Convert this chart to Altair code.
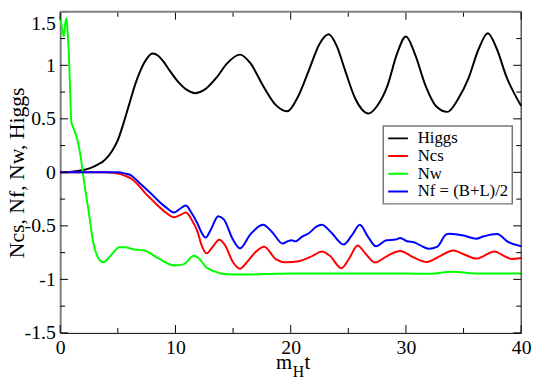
import altair as alt
import pandas as pd

# ---------------- data ----------------
series_names = ["Higgs", "Ncs", "Nw", "Nf = (B+L)/2"]
series_colors = ["#000000", "#ff0000", "#00ff00", "#0000ff"]

x_major = [0, 10, 20, 30, 40]
x_minor = [5, 15, 25, 35]
y_major = [-1.5, -1.0, -0.5, 0.0, 0.5, 1.0, 1.5]
y_minor = [-1.25, -0.75, -0.25, 0.25, 0.75, 1.25]

y_title = "Ncs, Nf, Nw, Higgs"
x_title_parts = ["m", "H", "t"]

higgs_t = [0, 1, 2, 2.6, 3.3, 3.7, 4.0, 4.5, 5.0, 5.5, 6.0, 6.5, 7.0, 7.5, 8.0, 8.5, 9.0,
           9.5, 10.2, 11.0, 11.7, 12.5, 13.6, 14.5, 15.6, 16.5, 17.6, 18.7, 19.7,
           20.6, 21.6, 22.5, 23.3, 24.0, 24.7, 25.6, 26.75, 27.5, 28.4, 29.2, 30.0,
           30.8, 31.7, 32.6, 33.6, 34.5, 35.4, 36.3, 37.1, 37.9, 38.7, 40]
higgs_v = [0.0, 0.005, 0.022, 0.04, 0.075, 0.10, 0.13, 0.20, 0.30, 0.46, 0.64, 0.82, 0.96,
           1.06, 1.11, 1.09, 1.03, 0.95, 0.85, 0.77, 0.74, 0.77, 0.89, 1.02, 1.10,
           1.02, 0.81, 0.63, 0.57, 0.70, 0.96, 1.20, 1.29, 1.18, 0.96, 0.69, 0.55,
           0.62, 0.81, 1.10, 1.27, 1.10, 0.81, 0.62, 0.565, 0.68, 0.87, 1.15, 1.30,
           1.15, 0.90, 0.62]

ncs_t = [0, 2, 4, 4.6, 5.04, 5.6, 6.18, 6.7, 7.3, 7.9, 8.46, 9.1, 9.9, 10.4, 10.9,
         11.4, 11.9, 12.3, 12.7, 13.2, 13.8, 14.3, 15.0, 15.6, 16.2, 17.0, 17.7,
         18.7, 19.6, 20.7, 21.9, 22.7, 23.4, 24.4, 25.1, 25.8, 26.5, 27.3, 28.4,
         29.5, 30.7, 31.8, 33.0, 34.1, 35.1, 36.1, 37.7, 38.5, 39.2, 40]
ncs_v = [0.0, 0.0, 0.0, -0.005, -0.01, -0.03, -0.06, -0.11, -0.185, -0.25, -0.31,
         -0.37, -0.42, -0.40, -0.375, -0.44, -0.55, -0.69, -0.757, -0.70, -0.63,
         -0.68, -0.84, -0.90, -0.84, -0.74, -0.695, -0.81, -0.84, -0.83, -0.78,
         -0.74, -0.78, -0.895, -0.80, -0.683, -0.76, -0.842, -0.78, -0.735, -0.797,
         -0.837, -0.78, -0.73, -0.77, -0.806, -0.74, -0.78, -0.81, -0.80]

nw_t = [0, 0.15, 0.31, 0.45, 0.54, 0.65, 0.74, 0.85, 0.97, 1.2, 1.45, 1.74, 2.02,
        2.45, 2.88, 3.3, 3.73, 4.2, 4.6, 5.1, 5.6, 6.4, 7.3, 8.46, 9.9, 10.7, 11.6,
        12.0, 12.7, 13.5, 14.2, 16, 18, 20, 22, 24, 26, 28, 30, 32, 34.1, 36, 38, 40]
nw_v = [1.45, 1.35, 1.27, 1.40, 1.44, 1.30, 1.14, 0.80, 0.47, 0.40, 0.32, 0.17, -0.05,
        -0.35, -0.66, -0.80, -0.84, -0.80, -0.75, -0.70, -0.70, -0.72, -0.73, -0.80,
        -0.87, -0.86, -0.78, -0.80, -0.89, -0.93, -0.95, -0.955, -0.95, -0.945,
        -0.945, -0.945, -0.945, -0.945, -0.945, -0.948, -0.928, -0.945, -0.945, -0.945]

nf_t = [0, 4, 5.04, 5.6, 6.18, 6.7, 7.3, 7.9, 8.46, 9.1, 9.9, 10.4, 10.9, 11.4, 11.9,
        12.3, 12.6, 13.1, 13.7, 14.2, 15.0, 15.6, 16.5, 17.6, 18.4, 19.3, 19.8, 20.1,
        20.4, 21.0, 21.6, 22.2, 22.7, 23.5, 24.6, 25.3, 26.0, 26.7, 27.4, 28.3, 29.1,
        29.5, 30.1, 30.7, 31.5, 32.0, 32.7, 33.5, 33.8, 35.0, 36.1, 36.7, 37.9, 38.9, 40]
nf_v = [0.0, 0.0, 0.0, -0.01, -0.03, -0.08, -0.14, -0.20, -0.26, -0.32, -0.375, -0.34,
        -0.31, -0.38, -0.475, -0.57, -0.61, -0.53, -0.41, -0.44, -0.63, -0.71, -0.58,
        -0.49, -0.56, -0.665, -0.64, -0.635, -0.645, -0.60, -0.567, -0.51, -0.49,
        -0.56, -0.674, -0.59, -0.49, -0.60, -0.69, -0.635, -0.628, -0.613, -0.644,
        -0.653, -0.696, -0.714, -0.696, -0.58, -0.573, -0.59, -0.62, -0.60, -0.577,
        -0.653, -0.69]

rows = []
for name, ts, vs in zip(series_names, [higgs_t, ncs_t, nw_t, nf_t],
                        [higgs_v, ncs_v, nw_v, nf_v]):
    for t, v in zip(ts, vs):
        rows.append({"series": name, "t": t, "v": v})
df = pd.DataFrame(rows)

# ---------------- chart ----------------
W, H = 468, 326
FONT = "Liberation Serif, Times New Roman, Times, serif"
xscale = alt.Scale(domain=[0, 40], nice=False, zero=False)
yscale = alt.Scale(domain=[-1.5, 1.5], nice=False, zero=False)

X_AXIS = alt.Axis(
    orient="bottom", values=x_major, ticks=False, domain=True,
    domainColor="black", domainWidth=1, labelFont=FONT, labelFontSize=20,
    labelColor="black", labelPadding=5, labelFlush=False, grid=False,
    title=None)
Y_AXIS = alt.Axis(
    orient="left", values=y_major, ticks=False, domain=True,
    domainColor="#808080", domainWidth=2, labelFont=FONT, labelFontSize=20,
    labelColor="black", labelPadding=5, labelFlush=False, grid=False,
    labelExpr="'' + datum.value",
    labelOffset={"condition": {"test": "datum.value == 1.5", "value": 12}, "value": 0},
    title=y_title, titleFont=FONT, titleFontSize=22, titleFontWeight="normal",
    titleColor="black", titleX=-37, titleY=H / 2, titleBaseline="alphabetic",
    titleAlign="center", titleAngle=270)

lines = alt.Chart(df).mark_line(strokeWidth=2, interpolate="monotone").encode(
    x=alt.X("t:Q", scale=xscale, axis=X_AXIS),
    y=alt.Y("v:Q", scale=yscale, axis=Y_AXIS),
    color=alt.Color("series:N", scale=alt.Scale(domain=series_names, range=series_colors),
                    legend=alt.Legend(
                        title=None, orient="none", legendX=328, legendY=116,
                        symbolType="stroke", symbolStrokeWidth=2, symbolSize=400,
                        labelFont=FONT, labelFontSize=17, labelColor="black",
                        labelOffset=9, padding=4, clipHeight=17, rowPadding=0,
                        strokeColor="#777777", fillColor="white")),
)


def x_ticks(vals, length, top):
    d = pd.DataFrame({"t": vals})
    y0 = 0 if top else H
    y1 = length if top else H - length
    return alt.Chart(d).mark_rule(color="black", strokeWidth=1).encode(
        x=alt.X("t:Q", scale=xscale, axis=X_AXIS), y=alt.value(y0), y2=alt.value(y1))


def y_ticks(vals, length, right):
    d = pd.DataFrame({"v": vals})
    x0 = W if right else 0
    x1 = W - length if right else length
    return alt.Chart(d).mark_rule(color="black", strokeWidth=1).encode(
        y=alt.Y("v:Q", scale=yscale, axis=Y_AXIS), x=alt.value(x0), x2=alt.value(x1))


ticks = [
    x_ticks(x_major, 8, False), x_ticks(x_minor, 5, False),
    x_ticks(x_major, 8, True), x_ticks(x_minor, 5, True),
    y_ticks(y_major, 8, False), y_ticks(y_minor, 5, False),
    y_ticks(y_major, 8, True), y_ticks(y_minor, 5, True),
]

one = pd.DataFrame({"k": [0]})
top_border = alt.Chart(one).mark_rule(color="#808080", strokeWidth=2).encode(
    x=alt.value(0), x2=alt.value(W), y=alt.value(0))
right_border = alt.Chart(one).mark_rule(color="black", strokeWidth=1).encode(
    x=alt.value(W), y=alt.value(0), y2=alt.value(H))

title_df = pd.DataFrame({"part": x_title_parts})
m_text = alt.Chart(title_df).transform_filter(alt.datum.part == "m").mark_text(
    font=FONT, fontSize=21, align="left", baseline="alphabetic", color="black"
).encode(text="part:N", x=alt.value(219), y=alt.value(363))
h_text = alt.Chart(title_df).transform_filter(alt.datum.part == "H").mark_text(
    font=FONT, fontSize=16, align="left", baseline="alphabetic", color="black"
).encode(text="part:N", x=alt.value(236), y=alt.value(370.5))
t_text = alt.Chart(title_df).transform_filter(alt.datum.part == "t").mark_text(
    font=FONT, fontSize=21, align="left", baseline="alphabetic", color="black"
).encode(text="part:N", x=alt.value(248), y=alt.value(363))

chart = alt.layer(
    lines, *ticks, top_border, right_border, m_text, h_text, t_text
).properties(
    width=W, height=H,
    padding={"left": 53, "top": 1, "right": 11, "bottom": 47},
    autosize=alt.AutoSizeParams(type="none"),
).configure_view(stroke=None).configure_legend(strokeWidth=1.5)

chart.save("out.html", embed_options={"renderer": "svg", "actions": False})
